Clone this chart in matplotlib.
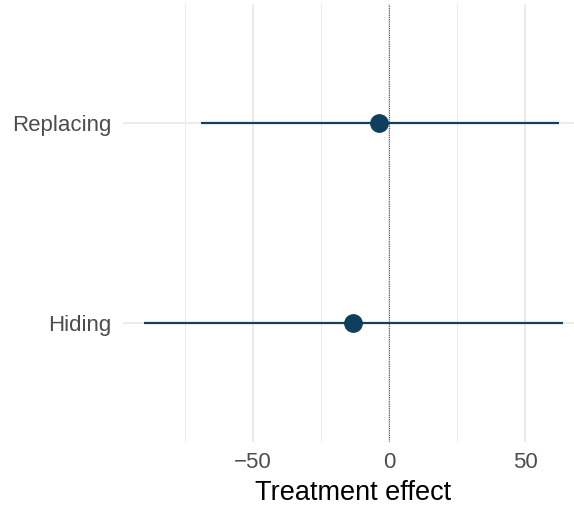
import matplotlib
matplotlib.use("Agg")
import matplotlib.pyplot as plt
import numpy as np

# treatment effect estimates with intervals
categories = ["Hiding", "Replacing"]
estimates = [-13.2, -3.7]
lower = [-90.1, -69.1]
upper = [63.8, 62.5]

major_ticks = [-50, 0, 50]
minor_ticks = [-75, -25, 25]

plt.rcParams['font.family'] = ['Liberation Sans', 'DejaVu Sans']

dpi = 100
fig = plt.figure(figsize=(574 / dpi, 508 / dpi), dpi=dpi)
# panel runs a little past the right edge of the picture, as in the original crop
ax = fig.add_axes([123 / 574, 66 / 508, 461 / 574, 438 / 508])

ypos = np.arange(len(categories)) + 1
col = '#12405e'

# grid like theme_minimal
for x in major_ticks:
    ax.axvline(x, color='#ebebeb', lw=1.4, zorder=0)
for x in minor_ticks:
    ax.axvline(x, color='#ebebeb', lw=0.7, zorder=0)
for y in ypos:
    ax.axhline(y, color='#ebebeb', lw=1.4, zorder=0)

ax.axvline(0, color='#555555', lw=0.8, linestyle=(0, (1, 1)), zorder=1)

ax.hlines(ypos, lower, upper, color=col, lw=1.6, zorder=2)
ax.plot(estimates, ypos, 'o', color='#0f3f5e', markersize=12.5, zorder=3)

ax.set_xlim(-97.9, 71.6)
ax.set_ylim(0.4, 2.6)
ax.set_xticks(major_ticks)
ax.set_xticklabels(['\u221250', '0', '50'])
ax.set_yticks(ypos)
ax.set_yticklabels(categories)
ax.tick_params(length=0, labelsize=16, labelcolor='#4d4d4d')
ax.tick_params(axis='y', pad=8.5)
ax.tick_params(axis='x', pad=7.5)
ax.set_xlabel('Treatment effect', fontsize=19.5, color='black', labelpad=5)

for s in ax.spines.values():
    s.set_visible(False)

fig.savefig('out.png', dpi=dpi)
